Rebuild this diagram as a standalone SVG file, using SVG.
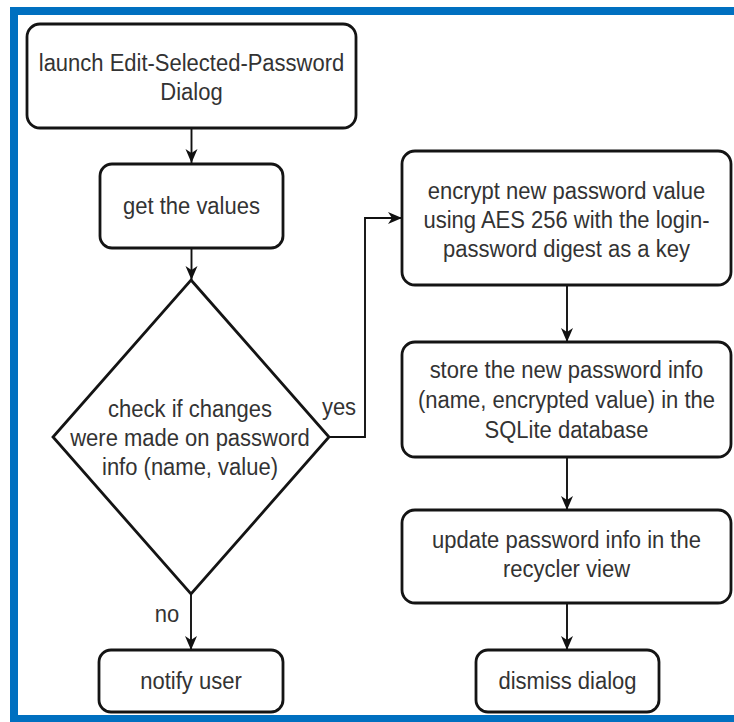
<svg xmlns="http://www.w3.org/2000/svg" width="734" height="722" viewBox="0 0 734 722">
  <style>
    .node { fill: #ffffff; stroke: #141414; stroke-width: 2.8; }
    .edge { fill: none; stroke: #111111; stroke-width: 1.9; }
    .lbl { font-family: "Liberation Sans", Arial, sans-serif; font-size: 22px; fill: #333333; text-anchor: middle;
           transform-box: fill-box; transform-origin: center; transform: scaleY(1.07); }
    .frame { fill: none; stroke: #0070C0; stroke-width: 8; }
  </style>
  <defs>
    <marker id="arrow" viewBox="0 0 16 14" markerWidth="16" markerHeight="14" markerUnits="userSpaceOnUse" refX="15" refY="7" orient="auto">
      <path d="M1,1 L15,7 L1,13 L5,7 Z" fill="#111111"/>
    </marker>
  </defs>

  <rect width="734" height="722" fill="#ffffff"/>
  <!-- blue frame, running past the right edge -->
  <rect class="frame" x="14" y="11" width="760" height="708"/>

  <g id="connectors">
    <path class="edge" d="M191.5,129 V163" marker-end="url(#arrow)"/>
    <path class="edge" d="M191.5,248 V280" marker-end="url(#arrow)"/>
    <path class="edge" d="M329,437 H365 V218 H402" marker-end="url(#arrow)"/>
    <path class="edge" d="M191,594 V650" marker-end="url(#arrow)"/>
    <path class="edge" d="M567,285 V342" marker-end="url(#arrow)"/>
    <path class="edge" d="M567,457 V510" marker-end="url(#arrow)"/>
    <path class="edge" d="M567,603 V650" marker-end="url(#arrow)"/>
    <text class="lbl" x="339" y="414">yes</text>
    <text class="lbl" x="167" y="621">no</text>
  </g>

  <g id="launch">
    <rect class="node" x="27" y="24" width="329" height="104" rx="13"/>
    <text class="lbl" x="191.5" y="70">launch Edit-Selected-Password</text>
    <text class="lbl" x="191.5" y="99">Dialog</text>
  </g>

  <g id="get-values">
    <rect class="node" x="100" y="164" width="183" height="84" rx="12"/>
    <text class="lbl" x="191.5" y="213">get the values</text>
  </g>

  <g id="check-changes">
    <polygon class="node" points="191,280 329,437 191,594 53,437"/>
    <text class="lbl" x="190" y="416">check if changes</text>
    <text class="lbl" x="190" y="445">were made on password</text>
    <text class="lbl" x="190" y="474">info (name, value)</text>
  </g>

  <g id="notify-user">
    <rect class="node" x="99" y="650" width="184" height="62" rx="12"/>
    <text class="lbl" x="191" y="688">notify user</text>
  </g>

  <g id="encrypt">
    <rect class="node" x="402" y="151" width="329" height="134" rx="13"/>
    <text class="lbl" x="566.5" y="198">encrypt new password value</text>
    <text class="lbl" x="566.5" y="227">using AES 256 with the login-</text>
    <text class="lbl" x="566.5" y="256">password digest as a key</text>
  </g>

  <g id="store">
    <rect class="node" x="402" y="342" width="329" height="115" rx="13"/>
    <text class="lbl" x="566.5" y="377">store the new password info</text>
    <text class="lbl" x="566.5" y="407">(name, encrypted value) in the</text>
    <text class="lbl" x="566.5" y="437">SQLite database</text>
  </g>

  <g id="update">
    <rect class="node" x="402" y="510" width="329" height="93" rx="13"/>
    <text class="lbl" x="566.5" y="547">update password info in the</text>
    <text class="lbl" x="566.5" y="576">recycler view</text>
  </g>

  <g id="dismiss">
    <rect class="node" x="476" y="650" width="183" height="62" rx="12"/>
    <text class="lbl" x="567.5" y="688">dismiss dialog</text>
  </g>
</svg>
